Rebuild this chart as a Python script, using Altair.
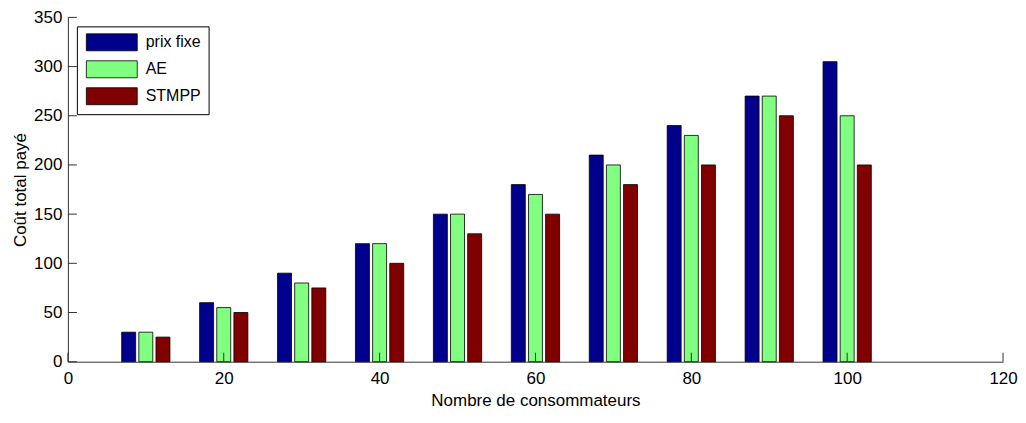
import altair as alt
import pandas as pd

consommateurs = [10, 20, 30, 40, 50, 60, 70, 80, 90, 100]
prix_fixe = [30, 60, 90, 120, 150, 180, 210, 240, 270, 305]
ae = [30, 55, 80, 120, 150, 170, 200, 230, 270, 250]
stmpp = [25, 50, 75, 100, 130, 150, 180, 200, 250, 200]
series = ["prix fixe", "AE", "STMPP"]
colors = ["#00008C", "#80FF80", "#800000"]
y_ticks = [0, 50, 100, 150, 200, 250, 300, 350]
x_ticks = [0, 20, 40, 60, 80, 100, 120]

rows = []
for i, n in enumerate(consommateurs):
    for k, (s, vals) in enumerate(zip(series, [prix_fixe, ae, stmpp])):
        rows.append({"n": n, "serie": s, "k": k, "valeur": vals[i]})
df = pd.DataFrame(rows)

W, H = 937, 345
FONT = "Liberation Sans"

xscale = alt.Scale(domain=[0, 120], nice=False, zero=False, padding=0)
yscale = alt.Scale(domain=[0, 350], nice=False, padding=0)

bars = alt.Chart(df).transform_calculate(
    xpos="datum.n + (datum.k - 1) * 2.2"
).mark_bar(width=14, stroke="black", strokeWidth=0.8).encode(
    x=alt.X("xpos:Q", scale=xscale,
            axis=alt.Axis(values=x_ticks, title="Nombre de consommateurs", ticks=False,
                          grid=False, labelPadding=9, titlePadding=6, labelFlush=False,
                          domainColor="#333333")),
    y=alt.Y("valeur:Q", scale=yscale,
            axis=alt.Axis(values=y_ticks, title="Coût total payé", ticks=False,
                          grid=False, labelPadding=6, titlePadding=4, labelFlush=False,
                          domainColor="#333333")),
    color=alt.Color("serie:N", scale=alt.Scale(domain=series, range=colors),
                    sort=series,
                    legend=alt.Legend(title=None, orient="none", legendX=9, legendY=9,
                                      symbolType="M-3,-1H3V1H-3Z",
                                      symbolSize=289, symbolOffset=19,
                                      labelOffset=25,
                                      symbolStrokeColor="black",
                                      symbolStrokeWidth=0.8, symbolOpacity=1,
                                      labelFontSize=16, labelFont=FONT,
                                      labelColor="black",
                                      rowPadding=5, padding=7,
                                      strokeColor="black", fillColor="white")),
)

yt = alt.Chart(pd.DataFrame({"v": y_ticks})).mark_rule(color="#333333").encode(
    y=alt.Y("v:Q", scale=yscale), x=alt.value(0), x2=alt.value(9)
)
xt = alt.Chart(pd.DataFrame({"v": x_ticks})).mark_rule(color="#333333").encode(
    x=alt.X("v:Q", scale=xscale), y=alt.value(H), y2=alt.value(H - 9)
)

chart = alt.layer(bars, yt, xt).properties(
    width=W, height=H, padding={"left": 3, "top": 0, "right": 0, "bottom": 0}
).configure_view(stroke=None).configure_axis(
    labelFont=FONT, titleFont=FONT, labelFontSize=17, titleFontSize=17,
    titleFontWeight="normal", labelColor="black", titleColor="black"
)

chart.save("out.html", embed_options={"renderer": "svg", "actions": False})
